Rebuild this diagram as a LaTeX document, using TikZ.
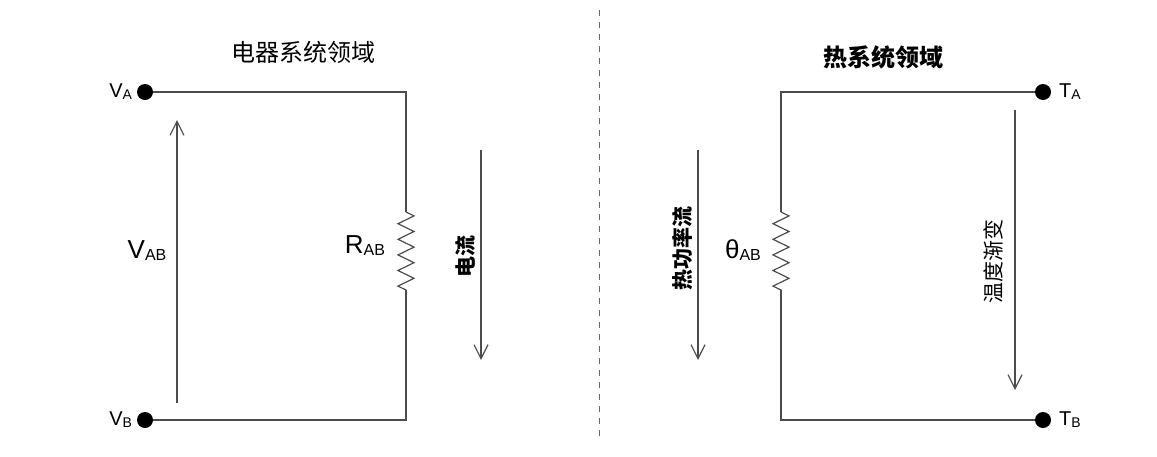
\documentclass[tikz,border=0pt]{standalone}
\usepackage{fontspec}
\setmainfont{Liberation Sans}
\newfontfamily\cjk{Noto Sans CJK SC}
\usetikzlibrary{arrows.meta,decorations.pathmorphing}

\tikzset{
  wire/.style={draw=black!70,line width=0.6pt},
  flow/.style={draw=black!70,line width=0.6pt,-{Straight Barb[length=7pt,width=7pt]}},
  term/.style={circle,fill=black,inner sep=0pt,minimum size=8pt},
  resist/.style={decorate,decoration={zigzag,segment length=7.8pt,amplitude=4pt}},
  lbl/.style={font=\fontsize{13}{13}\selectfont},
  tlbl/.style={font=\fontsize{10}{10}\selectfont}
}

\begin{document}
\begin{tikzpicture}[x=0.5pt,y=-0.5pt]
  \useasboundingbox (0,0) rectangle (1157,456);

  % electrical side
  \node[font=\cjk\fontsize{12}{12}\selectfont] (etitle) at (303,52) {电器系统领域};
  \node[term] (va) at (145,92) {};
  \node[term] (vb) at (145,420) {};
  \node[tlbl,anchor=east] (valbl) at (139,92) {V\raisebox{-1pt}{\scriptsize A}};
  \node[tlbl,anchor=east] (vblbl) at (139,420) {V\raisebox{-1pt}{\scriptsize B}};
  \coordinate (e1) at (406,92);
  \coordinate (e2) at (406,212);
  \coordinate (e3) at (406,290);
  \coordinate (e4) at (406,420);
  \draw[wire] (va) -- (e1) -- (e2);
  \draw[wire,resist] (e2) -- (e3);
  \draw[wire] (e3) -- (e4) -- (vb);
  \node[lbl] (rab) at (365,246) {R\raisebox{-1pt}{\footnotesize AB}};
  \coordinate (u1) at (177,403);
  \coordinate (u2) at (177,120);
  \draw[flow] (u1) -- (u2);
  \node[lbl] (vab) at (147,251) {V\raisebox{-1pt}{\footnotesize AB}};
  \coordinate (c1) at (481,150);
  \coordinate (c2) at (481,360);
  \draw[flow] (c1) -- (c2);
  \node[font=\cjk\bfseries\fontsize{10.5}{10.5}\selectfont,rotate=90] (cur) at (465,256) {电流};

  % divider
  \coordinate (d1) at (599,10);
  \coordinate (d2) at (599,440);
  \draw[black!60,dashed,line width=0.5pt] (d1) -- (d2);

  % thermal side
  \node[font=\cjk\bfseries\fontsize{12}{12}\selectfont] (ttitle) at (883,57) {热系统领域};
  \node[term] (ta) at (1043,92) {};
  \node[term] (tb) at (1043,420) {};
  \node[tlbl,anchor=west] (talbl) at (1052,92) {T\raisebox{-1pt}{\scriptsize A}};
  \node[tlbl,anchor=west] (tblbl) at (1052,420) {T\raisebox{-1pt}{\scriptsize B}};
  \coordinate (t1) at (781,92);
  \coordinate (t2) at (781,212);
  \coordinate (t3) at (781,290);
  \coordinate (t4) at (781,420);
  \draw[wire] (ta) -- (t1) -- (t2);
  \draw[wire,resist] (t2) -- (t3);
  \draw[wire] (t3) -- (t4) -- (tb);
  \node[lbl] (thab) at (743,250) {θ\raisebox{-1pt}{\footnotesize AB}};
  \coordinate (h1) at (698,150);
  \coordinate (h2) at (698,360);
  \draw[flow] (h1) -- (h2);
  \node[font=\cjk\bfseries\fontsize{10.5}{10.5}\selectfont,rotate=90] (heat) at (683,248) {热功率流};
  \coordinate (g1) at (1015,110);
  \coordinate (g2) at (1015,390);
  \draw[flow] (g1) -- (g2);
  \node[font=\cjk\fontsize{10.5}{10.5}\selectfont,rotate=90] (grad) at (993,261) {温度渐变};
\end{tikzpicture}
\end{document}
